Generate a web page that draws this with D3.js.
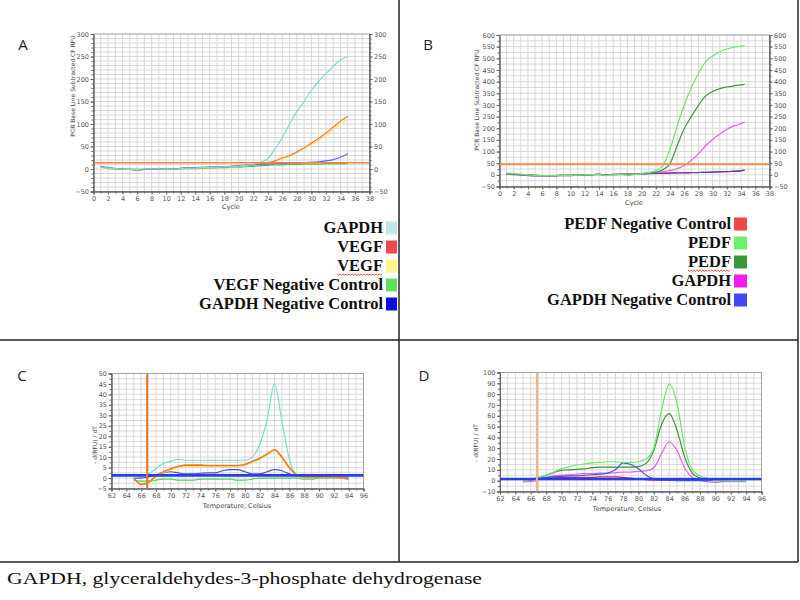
<!DOCTYPE html>
<html><head><meta charset="utf-8">
<script src="https://cdn.jsdelivr.net/npm/d3@7"></script>
<style>body{margin:0;background:#fff}</style></head>
<body><svg id="c" width="800" height="600"></svg>
<script>
// ---------- DATA ----------
const cyclesA = [1,2,3,4,5,6,7,8,9,10,11,12,13,14,15,16,17,18,19,20,21,22,23,24,25,26,27,28,29,30,31,32,33,34,35];
const aGAPDH    = [5,2,1,0,-1,-1,0,0,0,0, 0,1,2,2,3,3,4,5,5,6, 8,10,15,23,45,70,100,128,150,175, 195,212,228,242,250];
const aVEGF     = [6,2,1,0,-1,-2,-1,0,0,0, 0,2,3,3,4,4,5,5,6,7, 9,10,12,14,18,25,30,38,47,58, 68,80,93,106,117];
const aVEGF2    = [5,1,1,0,-1,-1,-1,0,0,0, 0,1,2,2,3,3,4,5,5,6, 8,9,11,13,17,23,28,36,44,55, 64,75,88,100,110];
const aVEGFNeg  = [4,1,0,-1,-1,-1,-1,-1,-1,0, 0,0,1,1,2,2,3,3,4,4, 5,6,7,8,9,9,10,10,11,11, 11,12,12,12,12];
const aGAPDHNeg = [6,3,1,0,-1,-2,-1,0,0,0, 0,1,3,3,3,4,5,5,6,7, 8,9,10,11,12,12,13,13,14,15, 16,18,21,26,34];
const thresholdA = 14;

const cyclesB = [1,2,3,4,5,6,7,8,9,10,11,12,13,14,15,16,17,18,19,20,21,22,23,24,25,26,27,28,29,30,31,32,33,34,34.5];
const bPEDFNeg  = [3,2,1,0,-2,-3,-3,-3,-2,-2, -1,0,1,2,0,1,2,3,4,5, 6,7,8,8,9,9,10,10,11,12, 13,14,16,18,20];
const bPEDF     = [8,6,3,0,-2,-3,-3,-3,-2,-2, -1,0,1,2,-3,0,1,-2,2,5, 10,18,40,110,210,300,375,435,485,510, 528,540,547,552,555];
const bPEDF2    = [4,3,1,0,-2,-3,-3,-3,-2,-2, -1,0,1,3,0,1,2,2,3,5, 8,12,22,48,125,198,250,298,338,358, 370,377,382,386,388];
const bGAPDH    = [3,2,1,0,-2,-3,-3,-3,-2,-2, -1,0,1,2,1,2,3,4,5,6, 8,10,14,18,26,40,62,90,125,152, 175,195,210,220,225];
const bGAPDHNeg = [2,1,0,-3,-5,-5,-4,-4,-3,-3, -2,-1,0,1,1,2,2,3,3,4, 5,6,6,7,8,8,9,10,11,12, 13,14,15,17,19];
const thresholdB = 45;

const temps = [65,66,67,68,69,70,71,72,73,74,75,76,77,78,79,80,81,82,83,84,85,86,87,88,89,90,91,92,93,94];
const cGAPDH    = [0,1,2,4.5,7,8,9,8.5,8.5,8.5, 8.5,8.5,8.5,8.5,8.5,8.5,10,16,28,45, 27,9,1.5,0.5,0.5,0.5,0.5,0.5,0.5,0.5];
const cVEGF     = [0,-3,-2,1,3,4.5,5.5,6.2,6.2,6.2, 6,6,6,6,6,6.5,8,9.5,11.5,13.5, 10,5,1.5,0.5,0.5,0.5,0.5,0.5,0,-0.5];
const cVEGF2    = [0,-2.5,-2,0.5,2.5,4,5,5.5,5.5,5.5, 5.5,5.5,5.5,5.5,5.5,6,7.5,9,11,13, 9.5,4.5,1.2,0.3,0.3,0.3,0.3,0.3,0,-0.5];
const cVEGFNeg  = [-1,-1.5,-1.5,-1,-0.5,-0.5,-1,-1,-1,-0.5, -0.5,-0.5,-0.5,-0.5,-1,-1,-0.5,0,0,0, 0,0,0,-0.5,-0.5,0,0,0,0,0];
const cGAPDHNeg = [0,0,0.5,1.5,2.5,3,2.5,2,2,2.3, 2.5,2.5,3.5,4,4,3,2,2,3,4, 3.5,2,1,0.5,0.5,0.5,0.5,0.5,0.5,0];
const meltBaseC = 1.3, meltCutC = 66.8;

const dPEDFNeg  = [0.5,1,2,2.5,3,3,3,3,3,3, 3.5,3.5,3.5,3,2.5,1.5,1,0.5,0.5,0.5, 0.5,0.5,0.5,0.5,0.5,0.5,0.5,0.5,0.5,0.5];
const dPEDF     = [0,1,3,5,8,11,13,14.5,15.5,16.5, 17,17.5,17.5,17,17,17.5,20,30,65,89, 72,32,10,4.5,2,0.5,0.5,0,0,0];
const dPEDF2    = [0,1,3,5,7.5,9.5,10,10.5,11,12, 12.5,12.5,12.5,12.5,12.5,13,16,28,52,62, 47,22,7,2.5,1,0.5,0.5,0.5,0.5,0.5];
const dGAPDH    = [-1,-1,1,3,4.5,5,5.5,6,6.5,6.5, 7,7,7.5,8,8,8.5,9,12,25,36, 28,12,3,0.5,-1,-1.5,-1,-1,-1,-1];
const dGAPDHNeg = [0,0.5,2,3,3.5,4,4.5,4.5,5,5.5, 6,7,10,16.5,15,11,5,1.5,0.5,0.5, 0,0,0,0,0,0,0,0,0,0];
const meltBaseD = 1.5, meltCutD = 66.8;

const cycleTicks = [0,2,4,6,8,10,12,14,16,18,20,22,24,26,28,30,32,34,36,38];
const yTicksA = [-50,0,50,100,150,200,250,300];
const yTicksB = [-50,0,50,100,150,200,250,300,350,400,450,500,550,600];
const tempTicks = [62,64,66,68,70,72,74,76,78,80,82,84,86,88,90,92,94,96];
const yTicksC = [-5,0,5,10,15,20,25,30,35,40,45,50];
const yTicksD = [-10,0,10,20,30,40,50,60,70,80,90,100];

const legendALabels = ["GAPDH","VEGF","VEGF","VEGF Negative Control","GAPDH Negative Control"];
const legendAColors = ["#c0e8e8","#f04848","#fff48a","#5ee05e","#0a0ae6"];
const legendBLabels = ["PEDF Negative Control","PEDF","PEDF","GAPDH","GAPDH Negative Control"];
const legendBColors = ["#f04848","#6af06a","#3a963a","#f01cf0","#4646f0"];
const panelLetters = ["A","B","C","D"];
const caption = "GAPDH, glyceraldehydes-3-phosphate dehydrogenase";

// ---------- DRAW ----------
const svg = d3.select("#c");
svg.append("rect").attr("width",800).attr("height",600).attr("fill","#fff");

function drawPanel(cfg){
  const x = d3.scaleLinear().domain(cfg.xDomain).range([cfg.left, cfg.right]);
  const y = d3.scaleLinear().domain(cfg.yDomain).range([cfg.bottom, cfg.top]);
  const g = svg.append("g");
  const gx = d3.range(cfg.xDomain[0], cfg.xDomain[1] + 1e-6, cfg.xGrid);
  const gy = d3.range(cfg.yDomain[0], cfg.yDomain[1] + 1e-6, cfg.yGrid);
  g.selectAll(null).data(gx).join("line")
    .attr("x1", d => x(d)).attr("x2", d => x(d)).attr("y1", cfg.top).attr("y2", cfg.bottom)
    .attr("stroke", "#cfcfcf").attr("stroke-width", 0.8);
  g.selectAll(null).data(gy).join("line")
    .attr("y1", d => y(d)).attr("y2", d => y(d)).attr("x1", cfg.left).attr("x2", cfg.right)
    .attr("stroke", "#cfcfcf").attr("stroke-width", 0.8);
  g.append("rect").attr("x", cfg.left).attr("y", cfg.top)
    .attr("width", cfg.right - cfg.left).attr("height", cfg.bottom - cfg.top)
    .attr("fill", "none").attr("stroke", "#9a9a9a").attr("stroke-width", 0.8);

  const style = a => {
    a.select(".domain").attr("stroke", "#666");
    a.selectAll(".tick line").attr("stroke", "#666");
    a.selectAll("text").attr("fill", "#555").style("font", "6.5px 'DejaVu Sans'");
  };
  g.append("g").attr("transform", `translate(0,${cfg.bottom})`)
    .call(d3.axisBottom(x).tickValues(gx).tickFormat("").tickSize(2)).call(style);
  g.append("g").attr("transform", `translate(${cfg.left},0)`)
    .call(d3.axisLeft(y).tickValues(gy).tickFormat("").tickSize(2)).call(style);
  g.append("g").attr("transform", `translate(0,${cfg.bottom})`)
    .call(d3.axisBottom(x).tickValues(cfg.xTicks).tickSize(3).tickPadding(2)).call(style);
  g.append("g").attr("transform", `translate(${cfg.left},0)`)
    .call(d3.axisLeft(y).tickValues(cfg.yTicks).tickSize(3).tickPadding(1.5)).call(style);
  if (cfg.rightAxis) {
    g.append("g").attr("transform", `translate(${cfg.right},0)`)
      .call(d3.axisRight(y).tickValues(gy).tickFormat("").tickSize(2)).call(style);
    g.append("g").attr("transform", `translate(${cfg.right},0)`)
      .call(d3.axisRight(y).tickValues(cfg.yTicks).tickSize(3).tickPadding(1.5)).call(style);
  }
  g.append("text").attr("x", cfg.xLabelX).attr("y", cfg.xLabelY).attr("text-anchor", "middle")
    .attr("fill", "#444").style("font", "6.5px 'DejaVu Sans'").text(cfg.xLabel);
  g.append("text").attr("transform", `translate(${cfg.yLabelX},${cfg.yLabelY}) rotate(-90)`)
    .attr("text-anchor", "middle").attr("fill", "#444").style("font", "6px 'DejaVu Sans'").text(cfg.yLabel);
  const clip = "clip" + cfg.id;
  svg.append("clipPath").attr("id", clip).append("rect")
    .attr("x", cfg.left).attr("y", cfg.top).attr("width", cfg.right - cfg.left).attr("height", cfg.bottom - cfg.top);
  const lines = svg.append("g").attr("clip-path", `url(#${clip})`);
  return {x, y, lines};
}

function series(p, xs, ys, color, w){
  const line = d3.line().x((d,i) => p.x(xs[i])).y(d => p.y(d)).curve(d3.curveMonotoneX);
  p.lines.append("path").attr("d", line(ys)).attr("fill", "none")
    .attr("stroke", color).attr("stroke-width", w || 1.2).attr("stroke-linejoin", "round");
}
function hline(p, v, color, w){
  const [a,b] = p.x.domain();
  p.lines.append("line").attr("x1", p.x(a)).attr("x2", p.x(b)).attr("y1", p.y(v)).attr("y2", p.y(v))
    .attr("stroke", color).attr("stroke-width", w);
}
function vline(p, v, color, w){
  const [a,b] = p.y.domain();
  p.lines.append("line").attr("x1", p.x(v)).attr("x2", p.x(v)).attr("y1", p.y(a)).attr("y2", p.y(b))
    .attr("stroke", color).attr("stroke-width", w);
}

// Panel A
const pA = drawPanel({id:"A", left:93.5, right:369.5, top:34, bottom:191.5, xDomain:[0,38], yDomain:[-50,300],
  xGrid:1, yGrid:10, xTicks:cycleTicks, yTicks:yTicksA, rightAxis:true,
  xLabel:"Cycle", xLabelX:231, xLabelY:209, yLabel:"PCR Base Line Subtracted CF RFU", yLabelX:75, yLabelY:86});
series(pA, cyclesA, aVEGFNeg, "#44c844");
series(pA, cyclesA, aVEGF2, "#f2e46a");
series(pA, cyclesA, aVEGF, "#f47a2e");
series(pA, cyclesA, aGAPDHNeg, "#6464e2");
series(pA, cyclesA, aGAPDH, "#7cdcd2");
hline(pA, thresholdA, "#f4843c", 1.6);

// Panel B
const pB = drawPanel({id:"B", left:499.5, right:769.5, top:35, bottom:186.5, xDomain:[0,38], yDomain:[-50,600],
  xGrid:1, yGrid:25, xTicks:cycleTicks, yTicks:yTicksB, rightAxis:true,
  xLabel:"Cycle", xLabelX:634, xLabelY:205, yLabel:"PCR Base Line Subtracted CF RFU", yLabelX:479, yLabelY:100});
series(pB, cyclesB, bPEDFNeg, "#d02a5a");
series(pB, cyclesB, bGAPDHNeg, "#5a3cc0");
series(pB, cyclesB, bGAPDH, "#e664e6");
series(pB, cyclesB, bPEDF2, "#3e9a3e");
series(pB, cyclesB, bPEDF, "#6ae86a");
hline(pB, thresholdB, "#f4904c", 2);

// Panel C
const pC = drawPanel({id:"C", left:111.5, right:363.5, top:373.5, bottom:488.5, xDomain:[62,96], yDomain:[-5,50],
  xGrid:1, yGrid:2.5, xTicks:tempTicks, yTicks:yTicksC, rightAxis:false,
  xLabel:"Temperature, Celsius", xLabelX:237, xLabelY:508, yLabel:"- d(RFU) / dT", yLabelX:97, yLabelY:445});
series(pC, temps, cVEGFNeg, "#4cd84c");
series(pC, temps, cGAPDHNeg, "#4a4ae6");
series(pC, temps, cGAPDH, "#7cdcd2");
series(pC, temps, cVEGF2, "#f2e46a");
series(pC, temps, cVEGF, "#f47a1e", 1.6);
hline(pC, meltBaseC, "#2a3cf0", 2.6);
vline(pC, meltCutC, "#f07a1a", 2);

// Panel D
const pD = drawPanel({id:"D", left:500, right:761.5, top:372.5, bottom:491.5, xDomain:[62,96], yDomain:[-10,100],
  xGrid:1, yGrid:5, xTicks:tempTicks, yTicks:yTicksD, rightAxis:false,
  xLabel:"Temperature, Celsius", xLabelX:627, xLabelY:511, yLabel:"- d(RFU) / dT", yLabelX:478, yLabelY:443});
series(pD, temps, dPEDFNeg, "#c02a4a");
series(pD, temps, dGAPDH, "#ec5cec");
series(pD, temps, dGAPDHNeg, "#3a5ae6");
series(pD, temps, dPEDF2, "#3e8e3e");
series(pD, temps, dPEDF, "#6ae86a");
hline(pD, meltBaseD, "#2a3cf0", 2.6);
vline(pD, meltCutD, "#f2b47c", 2);

// Legends
function legend(labels, colors, textRight, swX, swW, rowY){
  labels.forEach((lab, i) => {
    svg.append("rect").attr("x", swX).attr("y", rowY[i] - 6.5).attr("width", swW).attr("height", 13)
      .attr("fill", colors[i]);
    const t = svg.append("text").attr("x", textRight).attr("y", rowY[i] + 5).attr("text-anchor", "end")
      .attr("fill", "#111").style("font", "bold 16.5px 'Liberation Serif'").text(lab);
    if (i === 2) {
      const bb = t.node().getBBox();
      let d = `M${bb.x},${rowY[i] + 8}`;
      for (let xx = bb.x; xx < bb.x + bb.width - 2; xx += 3) d += ` l1.5,1.3 l1.5,-1.3`;
      svg.append("path").attr("d", d).attr("fill", "none").attr("stroke", "#e02020").attr("stroke-width", 0.8);
    }
  });
}
legend(legendALabels, legendAColors, 383, 386, 11, [228, 247, 266, 285, 304]);
legend(legendBLabels, legendBColors, 731, 734, 13, [224, 243, 262, 281, 300]);

// Panel letters
const letterPos = [[23,50],[428,50],[22,381],[424,381]];
panelLetters.forEach((l, i) => {
  svg.append("text").attr("x", letterPos[i][0]).attr("y", letterPos[i][1]).attr("text-anchor", "middle")
    .attr("fill", "#222").style("font", "15px 'Open Sans'").text(l);
});

// Frame lines
const frame = svg.append("g").attr("stroke", "#222").attr("stroke-width", 1.5);
frame.append("line").attr("x1", 399).attr("x2", 399).attr("y1", 0).attr("y2", 562);
frame.append("line").attr("x1", 0).attr("x2", 798).attr("y1", 340).attr("y2", 340);
frame.append("line").attr("x1", 0).attr("x2", 798).attr("y1", 562).attr("y2", 562);
frame.append("line").attr("x1", 798).attr("x2", 798).attr("y1", 0).attr("y2", 562);

// Caption
svg.append("text").attr("x", 7).attr("y", 584).attr("fill", "#111")
  .attr("textLength", 475).attr("lengthAdjust", "spacingAndGlyphs")
  .style("font", "17px 'Liberation Serif'").text(caption);
</script></body></html>
